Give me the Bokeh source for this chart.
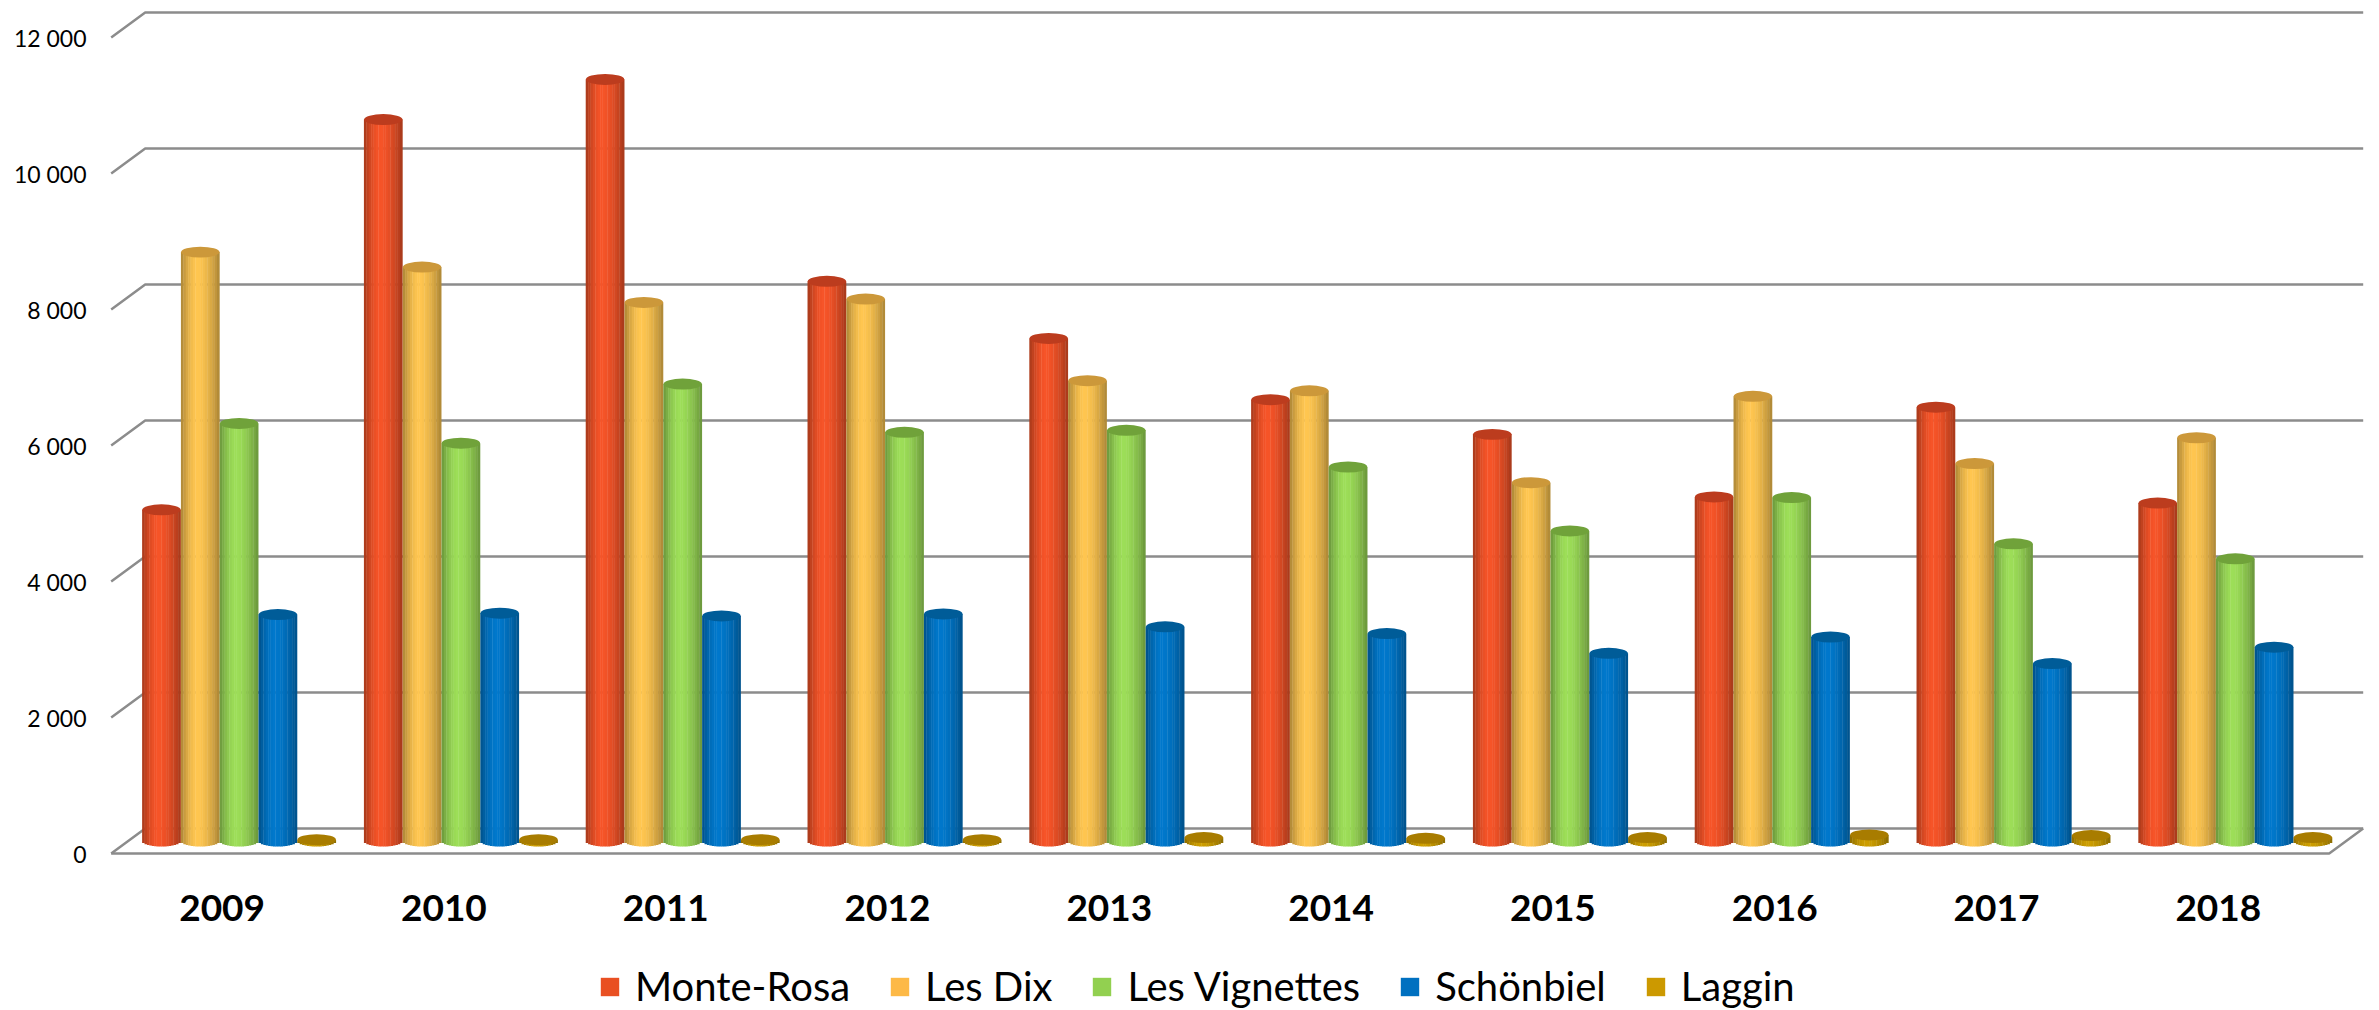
import math
from bokeh.plotting import figure
from bokeh.layouts import column
from bokeh.models import Range1d, FixedTicker, ColumnDataSource, Legend, LegendItem
from bokeh.embed import file_html
from bokeh.resources import INLINE

# ---------------- data ----------------
years = ["2009", "2010", "2011", "2012", "2013", "2014", "2015", "2016", "2017", "2018"]
series_names = ["Monte-Rosa", "Les Dix", "Les Vignettes", "Schönbiel", "Laggin"]
monte_rosa = [4870, 10610, 11200, 8230, 7390, 6490, 5980, 5060, 6380, 4970]
les_dix = [8660, 8440, 7920, 7970, 6770, 6620, 5270, 6540, 5550, 5930]
les_vignettes = [6140, 5850, 6720, 6010, 6040, 5500, 4560, 5050, 4370, 4150]
schonbiel = [3330, 3350, 3310, 3340, 3150, 3050, 2760, 3000, 2610, 2850]
laggin = [20, 20, 20, 20, 50, 40, 50, 90, 80, 50]
y_ticks = [0, 2000, 4000, 6000, 8000, 10000, 12000]
y_tick_labels = ["0", "2 000", "4 000", "6 000", "8 000", "10 000", "12 000"]

series_values = [monte_rosa, les_dix, les_vignettes, schonbiel, laggin]
body_colors = [(246, 84, 40), (255, 198, 80), (157, 222, 88), (0, 120, 204), (205, 158, 0)]
cap_colors = ["#BC3C1E", "#CC983A", "#70A23A", "#005C98", "#A87C00"]
legend_colors = ["#E95022", "#FDB946", "#92D050", "#0070C0", "#CC9900"]

FONT = "Lato"

# ---------------- layout (pixels) ----------------
W = 2379
HA, HB = 946, 64
FRAME_LEFT = 100
FRAME_BOTTOM = 860
FRAME_W = W - FRAME_LEFT
FRAME_H = FRAME_BOTTOM
PXX = 221.8          # px per category
PXY = 0.068          # px per visitor
ZERO_FROM_TOP = 853  # front-plane zero, px from frame top
FIRST_CENTER = 121.6 # first category centre, px from frame left

x_start = -FIRST_CENTER / PXX
x_end = x_start + FRAME_W / PXX
y_end = ZERO_FROM_TOP / PXY
y_start = -(FRAME_H - ZERO_FROM_TOP) / PXY

BACK_DX, BACK_DY = 34 / PXX, 25 / PXY
MID_DX, MID_DY = BACK_DX / 2, BACK_DY / 2
PITCH = 38.8 / PXX
BW = 38.4 / PXX
CAP_H = 11
NSTRIP = 16

p = figure(width=W, height=HA, output_backend="svg", toolbar_location=None,
           x_range=Range1d(x_start, x_end), y_range=Range1d(y_start, y_end),
           min_border_left=FRAME_LEFT, min_border_right=0, min_border_top=0,
           min_border_bottom=HA - FRAME_BOTTOM)
p.grid.visible = False
p.outline_line_color = None
p.background_fill_color = "white"
p.border_fill_color = "white"

# ---------------- walls: grid lines & floor ----------------
GRID = "#8C8C8C"
xl = -0.5
xr = len(years) - 0.5
gx, gy = [], []
for t in y_ticks:
    gx.append([xl, xl + BACK_DX, xr + BACK_DX])
    gy.append([t, t + BACK_DY, t + BACK_DY])
p.multi_line(gx, gy, line_color=GRID, line_width=2.5)
p.line([xl, xr, xr + BACK_DX], [0, 0, BACK_DY], line_color=GRID, line_width=2.5)

# ---------------- cylinders ----------------
def shade(rgb, f):
    return "#%02x%02x%02x" % tuple(max(0, min(255, int(round(c * f)))) for c in rgb)

def profile(u):
    peak = 0.42
    d = (u - peak) / (peak if u < peak else 1 - peak)
    return 1 - 0.33 * abs(d) ** 1.7

for s, vals in enumerate(series_values):
    sx, stop, sbot, sw, scol = [], [], [], [], []
    cx, cy = [], []
    for k, v in enumerate(vals):
        c = k + MID_DX + (s - 2) * PITCH
        top = v + MID_DY
        for j in range(NSTRIP):
            u = (j + 0.5) / NSTRIP
            sx.append(c - BW / 2 + u * BW)
            stop.append(top)
            sbot.append(MID_DY - (CAP_H / 2) * math.sqrt(max(0.0, 1 - (2 * u - 1) ** 2)) / PXY)
            sw.append(BW / NSTRIP * 1.15)
            scol.append(shade(body_colors[s], profile(u)))
        cx.append(c)
        cy.append(top)
    src = ColumnDataSource(dict(x=sx, top=stop, bottom=sbot, w=sw, color=scol))
    p.vbar(x="x", top="top", bottom="bottom", width="w", source=src,
           fill_color="color", line_color=None)
    p.ellipse(x=cx, y=cy, width=BW, height=CAP_H, height_units="screen",
              fill_color=cap_colors[s], line_color=None)

# ---------------- axes ----------------
p.yaxis.ticker = FixedTicker(ticks=y_ticks)
p.yaxis.major_label_overrides = {t: l for t, l in zip(y_ticks, y_tick_labels)}
p.yaxis.axis_line_color = None
p.yaxis.major_tick_line_color = None
p.yaxis.minor_tick_line_color = None
p.yaxis.major_tick_out = 0
p.yaxis.major_label_standoff = 14
p.yaxis.major_label_text_font = FONT
p.yaxis.major_label_text_font_size = "23px"
p.yaxis.major_label_text_color = "black"

p.xaxis.ticker = FixedTicker(ticks=list(range(len(years))))
p.xaxis.major_label_overrides = {i: y for i, y in enumerate(years)}
p.xaxis.axis_line_color = None
p.xaxis.major_tick_line_color = None
p.xaxis.minor_tick_line_color = None
p.xaxis.major_tick_out = 0
p.xaxis.major_label_standoff = 34
p.xaxis.major_label_text_font = FONT
p.xaxis.major_label_text_font_size = "37px"
p.xaxis.major_label_text_font_style = "bold"
p.xaxis.major_label_text_color = "black"

# ---------------- legend (own strip below the chart) ----------------
pl = figure(width=W, height=HB, output_backend="svg", toolbar_location=None,
            x_range=Range1d(-20, -10), y_range=Range1d(0, 1),
            x_axis_location=None, y_axis_location=None,
            min_border=0)
pl.grid.visible = False
pl.outline_line_color = None
lsrc = ColumnDataSource(dict(x=list(range(len(series_names))),
                             top=[1] * len(series_names), color=legend_colors))
lr = pl.vbar(x="x", top="top", width=0.5, source=lsrc, fill_color="color", line_color=None)
items = [LegendItem(label=name, renderers=[lr], index=i) for i, name in enumerate(series_names)]
legend = Legend(items=items, orientation="horizontal", location=(498, 0),
                glyph_width=23, glyph_height=23, label_standoff=14, spacing=38,
                label_text_font=FONT, label_text_font_size="40px",
                label_text_color="black", border_line_color=None,
                background_fill_alpha=0, padding=0, margin=0)
pl.add_layout(legend)

open("out.html", "w").write(file_html(column(p, pl, spacing=0), INLINE))
